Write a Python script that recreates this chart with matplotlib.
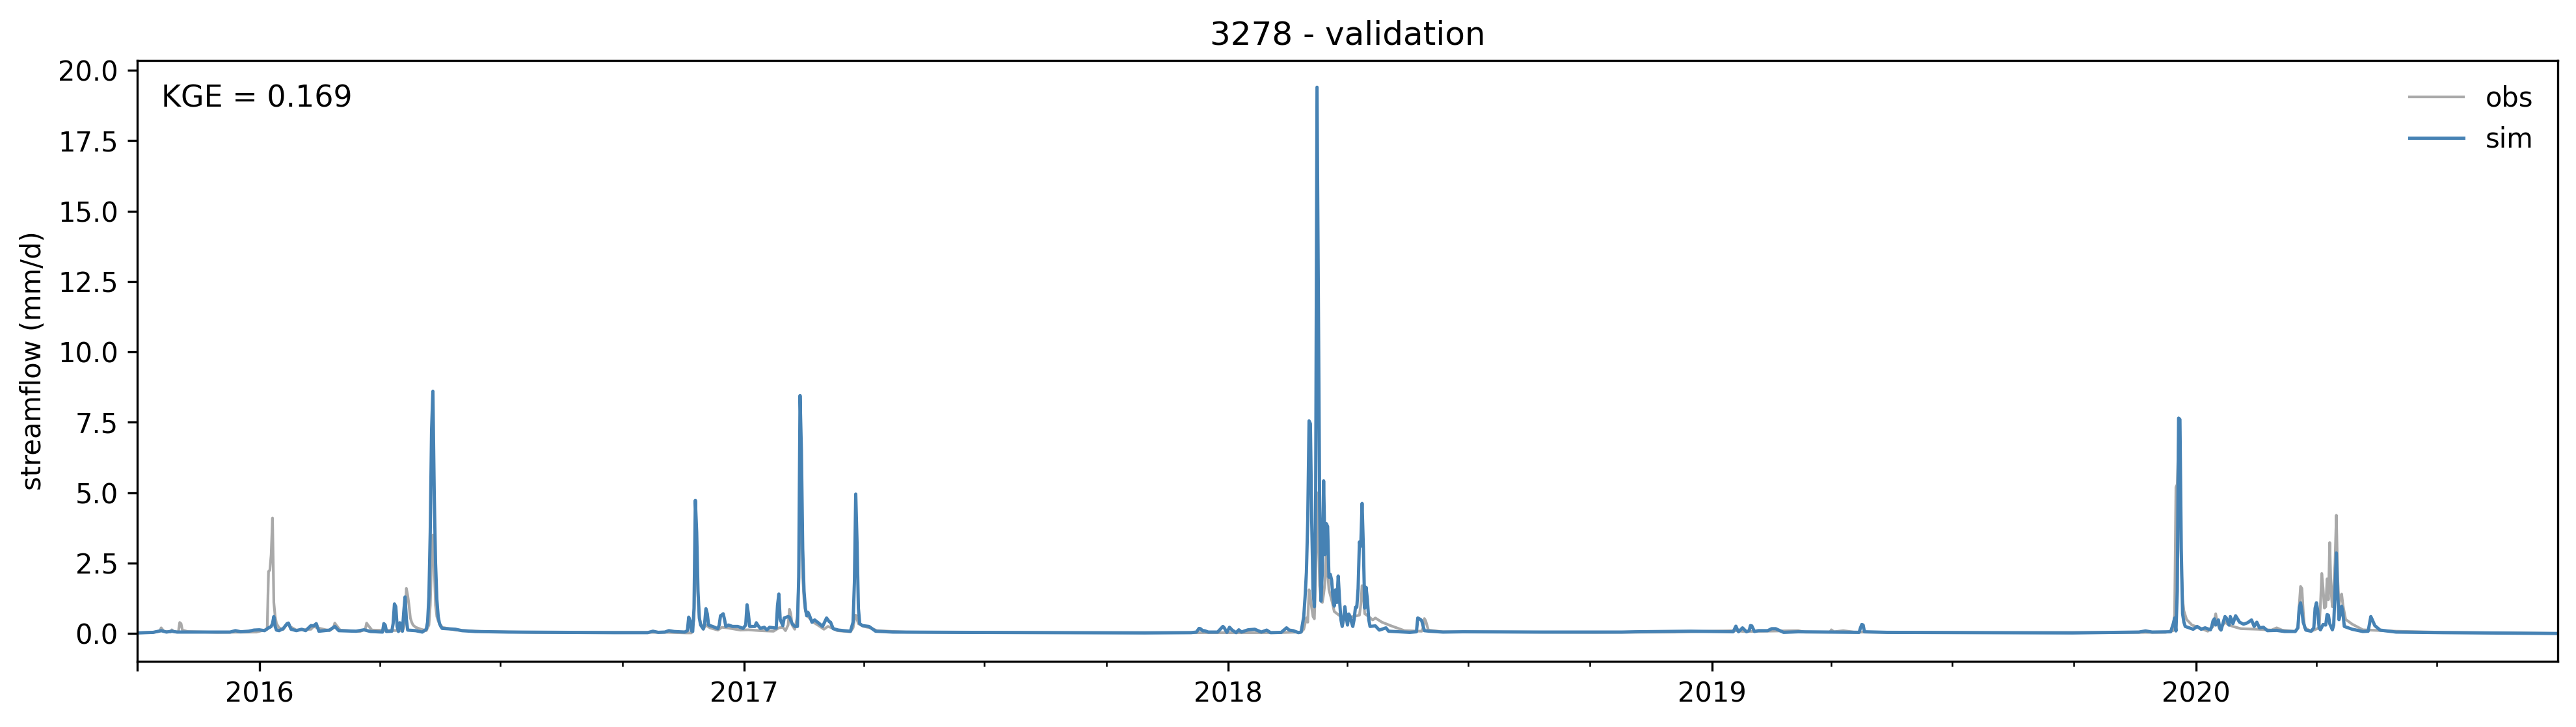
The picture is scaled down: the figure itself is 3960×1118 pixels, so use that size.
import numpy as np
import matplotlib
matplotlib.use("Agg")
import matplotlib.pyplot as plt
import matplotlib.dates as mdates

start = np.datetime64('2015-10-01')
end = np.datetime64('2020-09-30')

obs_days = [0, 12, 17, 18, 20, 25, 26, 28, 31, 32, 33, 34,
            38, 60, 90, 98, 99, 100, 101, 102, 103, 104, 105, 107,
            110, 113, 115, 120, 131, 133, 136, 145, 148, 149, 150, 153,
            168, 172, 173, 174, 177, 200, 201, 202, 203, 204, 205, 206,
            207, 208, 210, 214, 218, 220, 221, 222, 223, 224, 225, 226,
            227, 228, 230, 240, 260, 300, 400, 414, 418, 420, 421, 422,
            423, 424, 425, 427, 429, 432, 438, 441, 445, 455, 461, 470,
            480, 484, 487, 489, 491, 492, 493, 494, 496, 498, 499, 500,
            501, 502, 503, 504, 506, 510, 515, 518, 521, 524, 528, 538,
            540, 541, 542, 543, 544, 548, 553, 558, 580, 700, 800, 860,
            878, 880, 882, 883, 884, 885, 886, 887, 888, 889, 890, 891,
            892, 893, 894, 895, 896, 897, 898, 899, 901, 902, 903, 906,
            911, 917, 922, 923, 924, 925, 926, 929, 932, 934, 939, 946,
            956, 969, 970, 971, 972, 974, 985, 1100, 1160, 1206, 1212, 1253,
            1258, 1277, 1278, 1280, 1287, 1295, 1400, 1530, 1536, 1537, 1538, 1539,
            1540, 1541, 1542, 1543, 1544, 1546, 1550, 1556, 1562, 1566, 1568, 1569,
            1571, 1575, 1578, 1581, 1587, 1600, 1610, 1614, 1618, 1628, 1630, 1631,
            1632, 1633, 1634, 1635, 1640, 1646, 1647, 1648, 1649, 1650, 1651, 1652,
            1653, 1654, 1655, 1656, 1658, 1659, 1660, 1661, 1662, 1663, 1664, 1666,
            1671, 1679, 1704, 1740, 1800, 1825]
obs_vals = [.02, .04, .08, .2, .08, .05, .13, .05, .06, .39, .35, .12,
            .07, .04, .05, .15, 2.2, 2.25, 2.8, 4.1, 1.1, .6, .35, .2,
            .14, .35, .25, .12, .15, .25, .2, .1, .2, .37, .3, .12,
            .07, .15, .37, .3, .12, .1, .2, .5, 1.6, 1.35, 1.0, .55,
            .4, .3, .22, .15, .1, .3, 1.0, 2.5, 3.5, 2.4, 1.0, .6,
            .45, .35, .22, .12, .07, .04, .04, .02, .02, .5, 2.5, 2.8,
            1.3, .6, .35, .15, .3, .2, .12, .22, .2, .12, .13, .1,
            .08, .2, .22, .1, .3, .86, .7, .3, .15, .6, 2.0, 5.5,
            4.0, 2.0, 1.2, .8, .6, .4, .25, .15, .25, .2, .1, .06,
            .2, .5, .65, .5, .35, .25, .2, .1, .05, .03, .03, .03,
            .05, .15, .55, .4, 1.55, 1.3, .9, .6, .52, 2.0, 5.0, 3.5,
            1.7, 1.2, 1.1, 1.4, 1.8, 2.8, 2.2, 1.55, 1.2, 1.0, .78, .67,
            .5, .6, .65, 1.0, 1.7, 1.3, .7, .6, .48, .55, .4, .27,
            .1, .08, .2, .53, .45, .12, .06, .04, .05, .1, .07, .1,
            .05, .05, .13, .06, .1, .05, .03, .04, .1, .7, 5.2, 5.3,
            7.0, 6.0, 2.5, 1.2, .8, .5, .3, .2, .08, .25, .7, .4,
            .15, .4, .3, .25, .17, .15, .12, .2, .12, .07, .2, 1.0,
            1.67, 1.6, .8, .2, .08, .2, 1.0, 2.13, 1.6, .9, .95, 1.94,
            1.2, 3.23, 1.5, .95, 2.5, 4.2, 2.0, 1.0, 1.3, 1.4, 1.0, .5,
            .33, .13, .08, .04, .01, .0]

sim_days = [0, 6, 12, 18, 22, 26, 30, 40, 55, 70, 74, 78,
            84, 88, 92, 96, 99, 100, 101, 102, 103, 104, 105, 107,
            110, 113, 114, 116, 120, 124, 127, 131, 133, 135, 137, 145,
            149, 152, 165, 171, 176, 185, 186, 187, 188, 192, 193, 194,
            195, 196, 197, 198, 199, 200, 201, 202, 203, 204, 210, 215,
            218, 219, 220, 221, 222, 223, 224, 225, 226, 227, 228, 229,
            230, 240, 245, 255, 280, 320, 360, 385, 389, 393, 398, 401,
            405, 413, 415, 416, 417, 418, 419, 420, 421, 422, 423, 424,
            425, 427, 428, 429, 430, 431, 432, 434, 438, 439, 440, 441,
            442, 443, 444, 446, 449, 453, 457, 459, 460, 461, 462, 466,
            467, 468, 470, 473, 475, 477, 482, 483, 484, 485, 487, 488,
            491, 492, 494, 496, 498, 499, 500, 501, 502, 503, 504, 505,
            506, 507, 509, 511, 514, 517, 519, 520, 522, 523, 525, 529,
            533, 538, 540, 541, 542, 543, 544, 545, 547, 552, 557, 570,
            620, 700, 760, 795, 799, 801, 802, 804, 805, 808, 815, 819,
            820, 822, 824, 826, 829, 831, 833, 836, 838, 843, 848, 852,
            855, 863, 867, 869, 872, 876, 878, 880, 881, 882, 883, 884,
            885, 886, 887, 888, 889, 890, 891, 892, 893, 894, 895, 896,
            897, 898, 899, 900, 901, 902, 903, 904, 905, 906, 907, 908,
            909, 910, 911, 912, 913, 914, 915, 916, 917, 918, 919, 920,
            921, 922, 923, 924, 925, 926, 927, 928, 929, 930, 934, 937,
            942, 944, 960, 965, 966, 968, 969, 971, 975, 985, 1000, 1060,
            1120, 1130, 1172, 1204, 1206, 1207, 1208, 1211, 1214, 1216, 1217, 1218,
            1220, 1223, 1230, 1233, 1236, 1242, 1253, 1299, 1300, 1301, 1302, 1303,
            1320, 1400, 1460, 1510, 1515, 1520, 1534, 1536, 1537, 1538, 1539, 1540,
            1541, 1542, 1543, 1544, 1545, 1551, 1554, 1557, 1560, 1564, 1565, 1566,
            1567, 1568, 1570, 1571, 1572, 1574, 1575, 1576, 1578, 1579, 1581, 1583,
            1586, 1589, 1592, 1595, 1597, 1599, 1601, 1604, 1607, 1614, 1620, 1628,
            1630, 1631, 1632, 1633, 1634, 1636, 1640, 1642, 1643, 1644, 1645, 1646,
            1647, 1649, 1651, 1652, 1653, 1654, 1656, 1657, 1658, 1659, 1660, 1661,
            1662, 1663, 1664, 1665, 1671, 1679, 1683, 1685, 1686, 1688, 1692, 1704,
            1740, 1800, 1825]
sim_vals = [.02, .03, .04, .1, .05, .08, .05, .05, .05, .05, .1, .06,
            .08, .12, .13, .1, .2, .22, .25, .35, .6, .25, .12, .1,
            .17, .35, .37, .15, .1, .15, .1, .28, .27, .35, .08, .12,
            .25, .1, .08, .13, .07, .05, .35, .3, .07, .08, .35, 1.05,
            .95, .25, .07, .38, .35, .08, .75, 1.3, .5, .12, .1, .05,
            .15, .4, 1.3, 3.6, 7.2, 8.6, 5.0, 2.5, 1.2, .6, .35, .25,
            .18, .15, .1, .07, .05, .04, .03, .03, .08, .04, .05, .1,
            .07, .05, .1, .58, .45, .1, .07, .9, 4.73, 3.6, 1.5, .55,
            .3, .16, .35, .88, .7, .3, .28, .25, .17, .3, .63, .66,
            .7, .5, .25, .3, .25, .25, .18, .3, 1.02, .7, .25, .25,
            .38, .3, .18, .22, .13, .22, .19, 1.0, 1.4, .5, .28, .55,
            .6, .58, .35, .25, .25, 2.0, 8.45, 6.5, 3.0, 1.5, .9, .63,
            .75, .65, .4, .48, .37, .25, .45, .55, .42, .4, .17, .12,
            .1, .08, .4, 1.8, 4.95, 3.2, .9, .35, .28, .25, .08, .05,
            .04, .03, .02, .03, .05, .18, .17, .09, .1, .05, .05, .25,
            .2, .04, .22, .12, .03, .13, .05, .1, .13, .15, .05, .12,
            .03, .04, .2, .12, .1, .03, .05, .6, 1.3, 2.17, 4.0, 7.55,
            7.45, 4.0, 1.5, .95, 5.0, 19.4, 12.0, 4.5, 1.15, 2.2, 5.42, 2.8,
            3.9, 3.8, 2.0, 2.1, 1.9, 1.3, .97, 1.55, 1.1, 2.04, 1.2, .5,
            .25, .5, .95, .6, .3, .69, .6, .4, .25, .5, .93, .93,
            1.6, 3.25, 3.1, 4.62, 3.0, .9, 1.64, 1.2, .5, .25, .27, .12,
            .2, .08, .04, .06, .55, .5, .45, .1, .08, .05, .06, .05,
            .05, .06, .08, .06, .26, .15, .06, .2, .06, .1, .28, .27,
            .07, .1, .1, .17, .17, .04, .06, .04, .2, .32, .3, .06,
            .04, .03, .02, .05, .09, .05, .06, .35, .55, .09, 1.5, 7.65,
            7.6, 3.0, .7, .4, .25, .15, .25, .15, .2, .13, .25, .45,
            .52, .3, .48, .2, .12, .45, .6, .55, .3, .6, .35, .63,
            .4, .33, .38, .48, .25, .4, .2, .22, .1, .11, .07, .07,
            .2, .9, 1.09, .8, .4, .12, .08, .2, .9, 1.09, .8, .2,
            .13, .32, .3, .67, .65, .35, .13, .3, 1.5, 2.86, 1.4, .49,
            .7, .97, .7, .25, .15, .07, .08, .6, .5, .28, .12, .05,
            .03, .01, .0]

year_ticks = ['2015-10-01', '2016-01-01', '2017-01-01', '2018-01-01', '2019-01-01', '2020-01-01']
year_labels = ['', '2016', '2017', '2018', '2019', '2020']
y_ticks = [0, 2.5, 5, 7.5, 10, 12.5, 15, 17.5, 20]

obs_dates = start + np.array(obs_days).astype('timedelta64[D]')
sim_dates = start + np.array(sim_days).astype('timedelta64[D]')

fig, ax = plt.subplots(figsize=(13.2, 3.7267), dpi=300)
fig.subplots_adjust(left=0.0533, right=0.9929, top=0.9168, bottom=0.0903)

ax.plot(obs_dates, obs_vals, color='darkgray', lw=1, label='obs')
ax.plot(sim_dates, sim_vals, color='steelblue', lw=1.2, label='sim')

ax.set_xlim(start, end)
ax.set_ylim(-0.99, 20.35)
ax.set_yticks(y_ticks)
ax.set_yticklabels(['%.1f' % t for t in y_ticks])
ax.set_xticks(np.array(year_ticks, dtype='datetime64[D]'))
ax.set_xticklabels(year_labels)
ax.xaxis.set_minor_locator(mdates.MonthLocator(bymonth=(1, 4, 7, 10)))

ax.set_ylabel('streamflow (mm/d)')
ax.set_title('3278 - validation')
ax.text(0.0100, 0.961, 'KGE = 0.169', transform=ax.transAxes, fontsize=11, va='top')
ax.legend(loc='upper right', frameon=False)

fig.savefig('out.png', dpi=300)
